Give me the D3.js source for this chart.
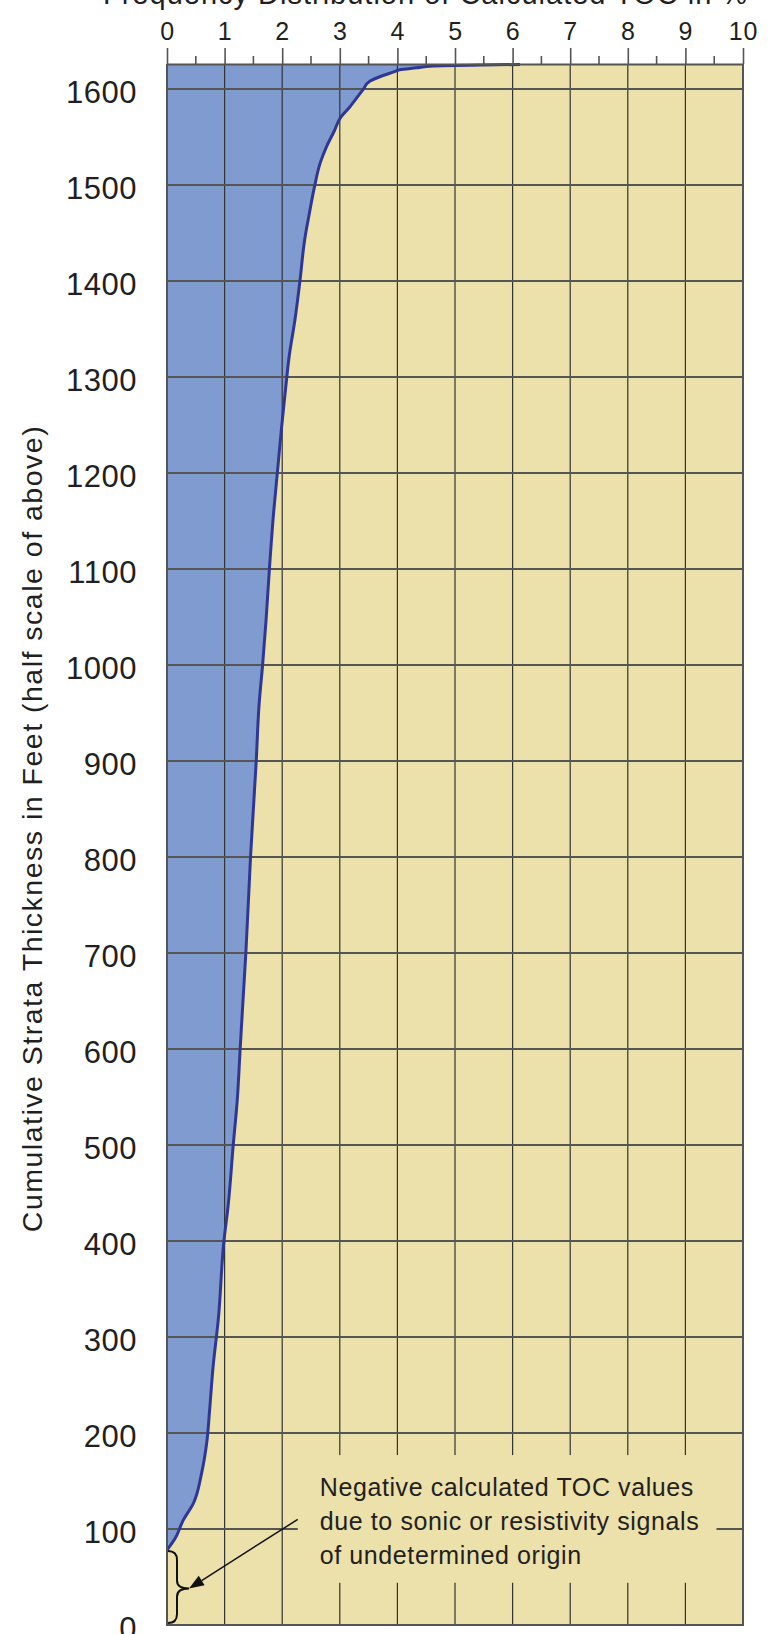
<!DOCTYPE html>
<html>
<head>
<meta charset="utf-8">
<script src="https://cdn.jsdelivr.net/npm/d3@7"></script>
<style>
  body { margin: 0; background: #fff; }
  svg { display: block; font-family: "Liberation Sans", Arial, Helvetica, sans-serif; }
</style>
</head>
<body>
<div id="chart"></div>
<script>
// chart data
const toc_values = [0, 0.14, 0.28, 0.46, 0.60, 0.69, 0.74, 0.80, 0.89, 0.99, 1.06, 1.15, 1.22, 1.27, 1.32,
  1.37, 1.45, 1.55, 1.60, 1.66, 1.72, 1.78, 1.85, 1.92, 1.99, 2.08, 2.12, 2.22, 2.31, 2.39, 2.47, 2.56,
  2.66, 2.77, 2.91, 3.00, 3.17, 3.40, 3.52, 3.75, 3.95, 4.04, 4.33, 4.62, 5.49, 6.13];
const thickness_ft = [78, 90, 109, 127, 158, 190, 224, 269, 318, 401, 436, 500, 547, 600, 651,
  701, 800, 901, 960, 1000, 1047, 1102, 1158, 1203, 1248, 1300, 1321, 1359, 1401, 1443, 1470, 1498,
  1523, 1540, 1557, 1569, 1581, 1599, 1608, 1614, 1618, 1620, 1622, 1624, 1625, 1625.5];
const x_ticks = [0, 1, 2, 3, 4, 5, 6, 7, 8, 9, 10];
const x_minor_ticks = [0.5, 1.5, 2.5, 3.5, 4.5, 5.5, 6.5, 7.5, 8.5, 9.5];
const y_ticks = [0, 100, 200, 300, 400, 500, 600, 700, 800, 900, 1000, 1100, 1200, 1300, 1400, 1500, 1600];
const negative_ft = 78;

const title_text = 'Frequency Distribution of Calculated TOC in %';
const y_label = 'Cumulative Strata Thickness in Feet (half scale of above)';
const note_lines = ['Negative calculated TOC values', 'due to sonic or resistivity signals', 'of undetermined origin'];

// chart static params
const width = 772, height = 1634;
const plot = {left: 167, right: 743, top: 64, bottom: 1625};
const col_blue = '#7f9bd0', col_tan = '#ece0ab', col_line = '#2e3796', col_grid = '#555', col_text = '#231f20';

const svg = d3.select('#chart').append('svg')
    .attr('width', width)
    .attr('height', height);

const x = d3.scaleLinear().domain([0, 10]).range([plot.left, plot.right]);
const y = d3.scaleLinear().domain([0, 1626]).range([plot.bottom, plot.top]);

const data = toc_values.map((v, i) => ({toc: v, ft: thickness_ft[i]}));
const curveLine = d3.line().x(d => x(d.toc)).y(d => y(d.ft)).curve(d3.curveMonotoneY);

// background (tan)
svg.append('rect')
    .attr('x', x(0)).attr('y', y(1626))
    .attr('width', x(10) - x(0)).attr('height', y(0) - y(1626))
    .attr('fill', col_tan);

// blue area left of the curve
const lastToc = toc_values[toc_values.length - 1];
svg.append('path')
    .attr('d', curveLine(data) + `L${x(lastToc)},${y(1626)}L${x(0)},${y(1626)}L${x(0)},${y(negative_ft)}Z`)
    .attr('fill', col_blue);

// grids
svg.append('g').selectAll('line')
    .data(x_ticks.slice(1, -1))
    .join('line')
      .attr('x1', d => x(d)).attr('x2', d => x(d))
      .attr('y1', y(1626)).attr('y2', y(0))
      .attr('stroke', '#333').attr('stroke-width', 1.2);

svg.append('g').selectAll('line')
    .data(y_ticks.slice(1))
    .join('line')
      .attr('x1', x(0)).attr('x2', x(10))
      .attr('y1', d => y(d)).attr('y2', d => y(d))
      .attr('stroke', col_grid).attr('stroke-width', 2);

// note box covers the grid
const note_box = {x0: 2.27, x1: 9.54, ft0: 44, ft1: 177};
svg.append('rect')
    .attr('x', x(note_box.x0)).attr('y', y(note_box.ft1))
    .attr('width', x(note_box.x1) - x(note_box.x0))
    .attr('height', y(note_box.ft0) - y(note_box.ft1))
    .attr('fill', col_tan);

// curve
svg.append('path')
    .attr('d', curveLine(data))
    .attr('fill', 'none')
    .attr('stroke', col_line)
    .attr('stroke-width', 3)
    .attr('stroke-linejoin', 'round');

// border (left, bottom, right)
svg.append('path')
    .attr('d', `M${x(0)},${y(1626)}V${y(0)}H${x(10)}V${y(1626)}`)
    .attr('fill', 'none')
    .attr('stroke', col_grid)
    .attr('stroke-width', 2);

// top axis
const xAxis = svg.append('g')
    .attr('transform', `translate(0,${y(1626)})`)
    .call(d3.axisTop(x).tickValues(x_ticks).tickSize(16).tickPadding(8.5).tickSizeOuter(0));
xAxis.select('.domain').attr('stroke', col_grid).attr('stroke-width', 2);
xAxis.selectAll('.tick line').attr('stroke', col_grid).attr('stroke-width', 1.6);
xAxis.selectAll('.tick text')
    .attr('font-size', 25)
    .attr('letter-spacing', 0.8)
    .attr('fill', col_text);
svg.append('g').selectAll('line')
    .data(x_minor_ticks)
    .join('line')
      .attr('x1', d => x(d)).attr('x2', d => x(d))
      .attr('y1', y(1626) - 8).attr('y2', y(1626))
      .attr('stroke', col_grid).attr('stroke-width', 1.6);

// left axis (labels only)
const yAxis = svg.append('g')
    .attr('transform', `translate(${x(0)},0)`)
    .call(d3.axisLeft(y).tickValues(y_ticks).tickFormat(d3.format('d')).tickSize(0).tickPadding(30));
yAxis.select('.domain').remove();
yAxis.selectAll('.tick text')
    .attr('font-size', 31)
    .attr('dy', '0.45em')
    .attr('letter-spacing', 0.5)
    .attr('fill', col_text);

// title (mostly cut off at the top, as in the original)
svg.append('text')
    .attr('x', 103).attr('y', 4)
    .attr('font-size', 29)
    .attr('letter-spacing', 1)
    .attr('fill', col_text)
    .text(title_text);

// y label
svg.append('text')
    .attr('text-anchor', 'middle')
    .attr('transform', `translate(42,${(422 + 1235) / 2}) rotate(-90)`)
    .attr('font-size', 28.5)
    .attr('letter-spacing', 1.5)
    .attr('fill', col_text)
    .text(y_label);

// brace for the negative values
const bx0 = x(0) + 1, bxm = x(0) + 10, btip = x(0) + 22;
const byTop = y(negative_ft) + 1, byBot = y(0) - 2, byMid = y(negative_ft / 2) + 1;
svg.append('path')
    .attr('d', `M${bx0},${byTop}Q${bxm},${byTop} ${bxm},${byTop + 9}L${bxm},${byMid - 8}Q${bxm},${byMid} ${btip},${byMid}` +
      `Q${bxm},${byMid} ${bxm},${byMid + 8}L${bxm},${byBot - 9}Q${bxm},${byBot} ${bx0},${byBot}`)
    .attr('fill', 'none')
    .attr('stroke', '#111')
    .attr('stroke-width', 2);

// arrow from note to brace
const ax1 = x(note_box.x0), ay1 = y(110);
const ax2 = btip, ay2 = byMid;
const ang = Math.atan2(ay2 - ay1, ax2 - ax1);
const headLen = 15, headW = 5.5;
const hx = ax2 - headLen * Math.cos(ang), hy = ay2 - headLen * Math.sin(ang);
svg.append('line')
    .attr('x1', ax1).attr('y1', ay1).attr('x2', hx).attr('y2', hy)
    .attr('stroke', '#111').attr('stroke-width', 1.5);
svg.append('path')
    .attr('d', `M${ax2},${ay2}L${hx - headW * Math.sin(ang)},${hy + headW * Math.cos(ang)}L${hx + headW * Math.sin(ang)},${hy - headW * Math.cos(ang)}Z`)
    .attr('fill', '#111');

// note text
svg.append('g').selectAll('text')
    .data(note_lines)
    .join('text')
      .attr('x', x(note_box.x0) + 22)
      .attr('y', (d, i) => 1496 + i * 34)
      .attr('font-size', 25)
      .attr('letter-spacing', 0.6)
      .attr('fill', col_text)
      .text(d => d);
</script>
</body>
</html>
